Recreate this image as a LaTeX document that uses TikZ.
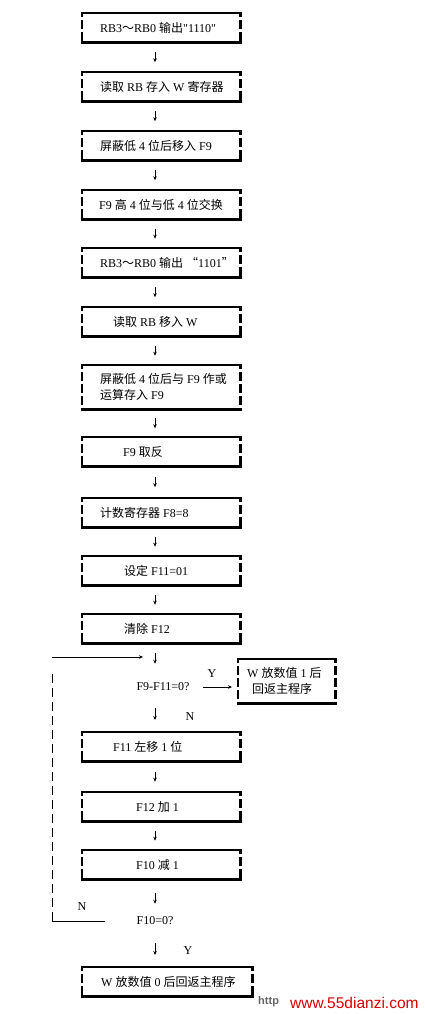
\documentclass[tikz,border=0pt]{standalone}
\usepackage{fontspec}
\setmainfont{Liberation Serif}
\newfontfamily\cjk{Noto Sans CJK SC}
\newfontfamily\rawserif{Liberation Serif}[Ligatures=TeXOff]
\newfontfamily\wmfont{Liberation Sans}
\newcommand\zh[1]{{\cjk #1}}
\newcommand\sq{{\rawserif"}}
\usetikzlibrary{arrows.meta,positioning}

\tikzset{
  stepbox/.style={minimum width=158pt, minimum height=#1, inner sep=0pt, anchor=north west},
  stepbox/.default=29pt,
  steptext/.style={anchor=west, inner sep=0pt, font=\fontsize{12}{16}\selectfont, align=left},
  arr/.style={-{Stealth[length=4pt,width=3.5pt]}, line width=0.7pt},
  edgeline/.style={line width=2.4pt},
  sideline/.style={line width=2.4pt, dash pattern=on 9pt off 3pt, dash phase=5pt},
  lbl/.style={inner sep=0pt, font=\fontsize{12}{14}\selectfont}
}

% frame of a box: solid top and bottom, broken sides
\newcommand\frm[1]{%
  \draw[edgeline] ([xshift=-1.2pt]#1.north west) -- ([xshift=1.2pt]#1.north east);
  \draw[edgeline] ([xshift=-1.2pt]#1.south west) -- ([xshift=1.2pt]#1.south east);
  \draw[sideline] (#1.north west) -- (#1.south west);
  \draw[sideline] (#1.north east) -- (#1.south east);}

\begin{document}
\begin{tikzpicture}[x=1pt,y=-1pt]
  \useasboundingbox (0,0) rectangle (425,1014);

  % boxes
  \node[stepbox] (b1) at (82,13) {};
  \node[stepbox] (b2) at (82,72) {};
  \node[stepbox] (b3) at (82,131) {};
  \node[stepbox] (b4) at (82,190) {};
  \node[stepbox] (b5) at (82,248) {};
  \node[stepbox] (b6) at (82,307) {};
  \node[stepbox=44pt] (b7) at (82,365) {};
  \node[stepbox] (b8) at (82,437) {};
  \node[stepbox] (b9) at (82,498) {};
  \node[stepbox] (b10) at (82,556) {};
  \node[stepbox] (b11) at (82,614) {};
  \node[stepbox=44pt, minimum width=97pt] (yes1) at (238,659) {};
  \node[stepbox] (b12) at (82,732) {};
  \node[stepbox] (b13) at (82,792) {};
  \node[stepbox] (b14) at (82,850) {};
  \node[stepbox, minimum width=170pt] (b15) at (82,967) {};
  \foreach \n in {b1,b2,b3,b4,b5,b6,b7,b8,b9,b10,b11,yes1,b12,b13,b14,b15}
    \frm{\n};

  % texts
  \node[steptext] (t1) at ([xshift=18pt]b1.west) {RB3\zh{～}RB0 \zh{输出}\sq1110\sq};
  \node[steptext] (t2) at ([xshift=18pt]b2.west) {\zh{读取} RB \zh{存入} W \zh{寄存器}};
  \node[steptext] (t3) at ([xshift=18pt]b3.west) {\zh{屏蔽低} 4 \zh{位后移入} F9};
  \node[steptext] (t4) at ([xshift=17pt]b4.west) {F9 \zh{高} 4 \zh{位与低} 4 \zh{位交换}};
  \node[steptext] (t5) at ([xshift=18pt]b5.west) {RB3\zh{～}RB0 \zh{输出} \zh{“}1101\zh{”}};
  \node[steptext] (t6) at ([xshift=31pt]b6.west) {\zh{读取} RB \zh{移入} W};
  \node[steptext] (t7) at ([xshift=18pt]b7.west) {\zh{屏蔽低} 4 \zh{位后与} F9 \zh{作或}\\\zh{运算存入} F9};
  \node[steptext] (t8) at ([xshift=41pt]b8.west) {F9 \zh{取反}};
  \node[steptext] (t9) at ([xshift=18pt]b9.west) {\zh{计数寄存器} F8=8};
  \node[steptext] (t10) at ([xshift=42pt]b10.west) {\zh{设定} F11=01};
  \node[steptext] (t11) at ([xshift=42pt]b11.west) {\zh{清除} F12};
  \node[steptext] (ty) at ([xshift=9pt]yes1.west) {W \zh{放数值} 1 \zh{后}\\\hspace*{5pt}\zh{回返主程序}};
  \node[steptext] (t12) at ([xshift=31pt]b12.west) {F11 \zh{左移} 1 \zh{位}};
  \node[steptext] (t13) at ([xshift=54pt]b13.west) {F12 \zh{加} 1};
  \node[steptext] (t14) at ([xshift=54pt]b14.west) {F10 \zh{减} 1};
  \node[steptext] (t15) at ([xshift=19pt]b15.west) {W \zh{放数值} 0 \zh{后回返主程序}};

  % decisions
  \node[steptext, anchor=center] (d1) at (163,687) {F9-F11=0?};
  \node[steptext, anchor=center] (d2) at (155,921) {F10=0?};

  % arrows between boxes, short and centred in the gap
  \coordinate (ax) at (155,0);
  \foreach \a/\b in {b1/b2,b2/b3,b3/b4,b4/b5,b5/b6,b6/b7,b7/b8,b8/b9,b9/b10,b10/b11,b12/b13,b13/b14}{
    \path (\a.south -| ax) -- coordinate[midway] (m) (\b.north -| ax);
    \draw[arr] ([yshift=5pt]m) -- ([yshift=-5pt]m);
  }
  \draw[arr, shorten <=10pt, shorten >=19pt] (b11.south -| ax) -- (d1.north -| ax);
  \draw[arr, shorten <=17pt, shorten >=12pt] (d1.south -| ax) -- (b12.north -| ax);
  \draw[arr, shorten <=13pt, shorten >=6pt] (d1.east) -- (yes1.west |- d1.east);
  \draw[arr, shorten <=14pt, shorten >=13pt] (b14.south -| ax) -- (d2.north -| ax);
  \draw[arr, shorten <=18pt, shorten >=12pt] (d2.south -| ax) -- (b15.north -| ax);

  % loop back
  \coordinate (lp) at (52,921);
  \coordinate (lt) at (52,672);
  \coordinate (in) at (52,657);
  \draw[line width=0.7pt, shorten <=31pt] (d2.west) -- (lp);
  \draw[line width=0.7pt, dash pattern=on 9pt off 5pt] (lp) -- (lt);
  \draw[arr, shorten >=12pt] (in) -- (in -| ax);

  % labels
  \node[lbl] (y1) at (212,674) {Y};
  \node[lbl] (n1) at (190,717) {N};
  \node[lbl] (n2) at (82,907) {N};
  \node[lbl] (y2) at (188,951) {Y};

  % watermark
  \node[anchor=west, inner sep=0pt, text=gray!80!black, font=\wmfont\bfseries\fontsize{11}{12}\selectfont] (wm1) at (258,1002) {http};
  \node[anchor=west, inner sep=0pt, text=red!85!black, font=\wmfont\fontsize{15.5}{17}\selectfont] (wm2) at (290,1003) {www.55dianzi.com};
\end{tikzpicture}
\end{document}
